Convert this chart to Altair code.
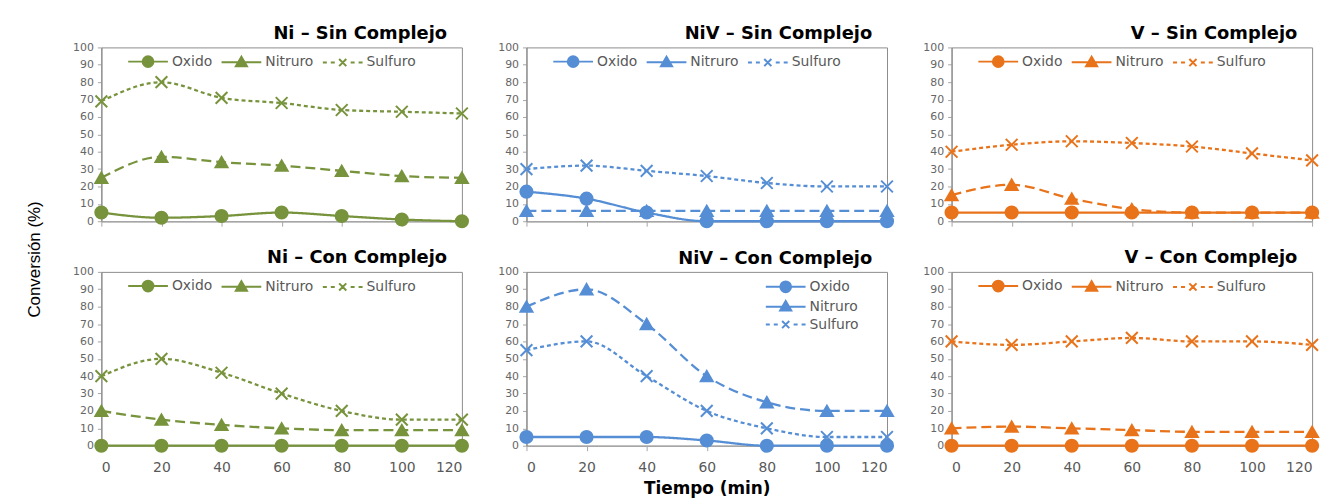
import altair as alt
import pandas as pd

tiempo = [0, 20, 40, 60, 80, 100, 120]
series = ["Oxido", "Nitruro", "Sulfuro"]
y_ticks = [0, 10, 20, 30, 40, 50, 60, 70, 80, 90, 100]

ni_sin_oxido = [5, 2, 3, 5, 3, 1, 0]
ni_sin_nitruro = [25, 37, 34, 32, 29, 26, 25]
ni_sin_sulfuro = [69, 80, 71, 68, 64, 63, 62]

niv_sin_oxido = [17, 13, 5, 0, 0, 0, 0]
niv_sin_nitruro = [6, 6, 6, 6, 6, 6, 6]
niv_sin_sulfuro = [30, 32, 29, 26, 22, 20, 20]

v_sin_oxido = [5, 5, 5, 5, 5, 5, 5]
v_sin_nitruro = [15, 21, 13, 7, 5, 5, 5]
v_sin_sulfuro = [40, 44, 46, 45, 43, 39, 35]

ni_con_oxido = [0, 0, 0, 0, 0, 0, 0]
ni_con_nitruro = [20, 15, 12, 10, 9, 9, 9]
ni_con_sulfuro = [40, 50, 42, 30, 20, 15, 15]

niv_con_oxido = [5, 5, 5, 3, 0, 0, 0]
niv_con_nitruro = [80, 90, 70, 40, 25, 20, 20]
niv_con_sulfuro = [55, 60, 40, 20, 10, 5, 5]

v_con_oxido = [0, 0, 0, 0, 0, 0, 0]
v_con_nitruro = [10, 11, 10, 9, 8, 8, 8]
v_con_sulfuro = [60, 58, 60, 62, 60, 60, 58]

GREEN = "#77933C"
BLUE = "#558ED5"
ORANGE = "#E8731A"

X_PATH = "M-1,-1L1,1M-1,1L1,-1"


def legend_paths(side):
    # legend glyphs drawn in pixel units, normalised to the symbol square of `side` px
    k = 2.0 / side

    def f(v):
        return f"{v * k:.4f}"

    r = 5.4
    circle = (f"M{f(-20)},0H{f(20)}M{f(r)},0A{f(r)},{f(r)},0,1,1,{f(-r)},0"
              f"A{f(r)},{f(r)},0,1,1,{f(r)},0Z")
    tri = f"M{f(-20)},0H{f(20)}M0,{f(-5.6)}L{f(5.6)},{f(4)}L{f(-5.6)},{f(4)}Z"
    cross = (f"M{f(-20)},0H{f(-16)}M{f(-12)},0H{f(-8)}M{f(8)},0H{f(12)}M{f(16)},0H{f(20)}"
             f"M{f(-3.6)},{f(-3.6)}L{f(3.6)},{f(3.6)}M{f(-3.6)},{f(3.6)}L{f(3.6)},{f(-3.6)}")
    return [circle, tri, cross]


FONT = "DejaVu Sans"
W, H = 363, 175


def panel(title, color, vals, bottom, legend_opts, side, y_title=False, x_title=False):
    rows = []
    for s, vs in zip(series, vals):
        for t, v in zip(tiempo, vs):
            rows.append({"tiempo": t, "valor": v, "serie": s})
    df = pd.DataFrame(rows)

    x_kwargs = dict(values=tiempo, labels=bottom, tickSize=5, tickColor="#a6a6a6",
                    domainColor="#a6a6a6", domainWidth=1.5, labelFontSize=14,
                    labelColor="#595959", labelFont=FONT, labelPadding=10,
                    title="Tiempo (min)" if x_title else None)
    if x_title:
        x_kwargs.update(titleFont=FONT, titleFontSize=17, titleFontWeight="bold",
                        titleColor="black", titlePadding=6)
    y_kwargs = dict(values=y_ticks, tickSize=4, tickColor="#a6a6a6", domainColor="#868686",
                    labelFontSize=11, labelColor="#666666", labelFont=FONT, labelPadding=4,
                    title="Conversión (%)" if y_title else None)
    if y_title:
        y_kwargs.update(titleFont="Liberation Sans Narrow, Liberation Sans", titleFontSize=17,
                        titleFontWeight="normal", titleColor="black",
                        titleX=-58, titleY=213)

    x = alt.X("tiempo:Q", scale=alt.Scale(domain=[0, 120], nice=False, zero=False),
              axis=alt.Axis(**x_kwargs))
    y = alt.Y("valor:Q", scale=alt.Scale(domain=[0, 100], nice=False),
              axis=alt.Axis(**y_kwargs))
    base = alt.Chart(df)
    line = base.mark_line(color=color, strokeWidth=2.3, interpolate="monotone").encode(
        x=x, y=y,
        strokeDash=alt.StrokeDash("serie:N", scale=alt.Scale(domain=series, range=[[1, 0], [10, 5], [4, 3]]),
                                  legend=None),
    )
    pts = base.mark_point(filled=True, fill=color, stroke=color, strokeWidth=2, opacity=1).encode(
        x=x, y=y,
        shape=alt.Shape("serie:N", scale=alt.Scale(domain=series, range=["circle", "triangle-up", X_PATH]),
                        legend=None),
        size=alt.Size("serie:O", scale=alt.Scale(domain=series, range=[150, 140, 45]), legend=None),
    )
    leg = base.transform_filter("false").mark_point(
        filled=True, fill=color, stroke=color, strokeWidth=2, opacity=1
    ).encode(
        shape=alt.Shape("serie:N", scale=alt.Scale(domain=series, range=legend_paths(side)),
                        legend=alt.Legend(title=None, orient="none", symbolSize=side * side,
                                          symbolStrokeWidth=2, labelFont=FONT, labelFontSize=14,
                                          labelColor="#595959", **legend_opts)),
    )
    dy = 8 if not bottom else 7
    return alt.layer(line, pts, leg).resolve_scale(shape="independent").properties(
        width=W, height=H,
        title=alt.TitleParams(title, anchor="end", dx=-25, dy=dy, fontSize=18, font=FONT,
                              fontWeight="bold", offset=5, color="black"),
    )


hleg = dict(direction="horizontal", columns=3, columnPadding=5, labelOffset=3, legendX=26, legendY=-7)
vleg = dict(direction="vertical", columns=1, rowPadding=0, labelOffset=14, legendX=251, legendY=5)

panels = [
    panel("Ni – Sin Complejo", GREEN, [ni_sin_oxido, ni_sin_nitruro, ni_sin_sulfuro], False, hleg, 40, y_title=True),
    panel("NiV – Sin Complejo", BLUE, [niv_sin_oxido, niv_sin_nitruro, niv_sin_sulfuro], False, hleg, 40),
    panel("V – Sin Complejo", ORANGE, [v_sin_oxido, v_sin_nitruro, v_sin_sulfuro], False, hleg, 40),
    panel("Ni – Con Complejo", GREEN, [ni_con_oxido, ni_con_nitruro, ni_con_sulfuro], True, hleg, 40),
    panel("NiV – Con Complejo", BLUE, [niv_con_oxido, niv_con_nitruro, niv_con_sulfuro], True, vleg, 18,
          x_title=True),
    panel("V – Con Complejo", ORANGE, [v_con_oxido, v_con_nitruro, v_con_sulfuro], True, hleg, 40),
]

chart = alt.concat(*panels, columns=3, spacing={"row": 51, "column": 65}, bounds="flush").properties(
    padding={"left": 17, "top": 15, "right": 5, "bottom": 5},
    background="white",
).configure_view(stroke="#8c8c8c", strokeWidth=1).configure_axis(grid=False)

chart.save("out.html", embed_options={"renderer": "svg", "actions": False})
